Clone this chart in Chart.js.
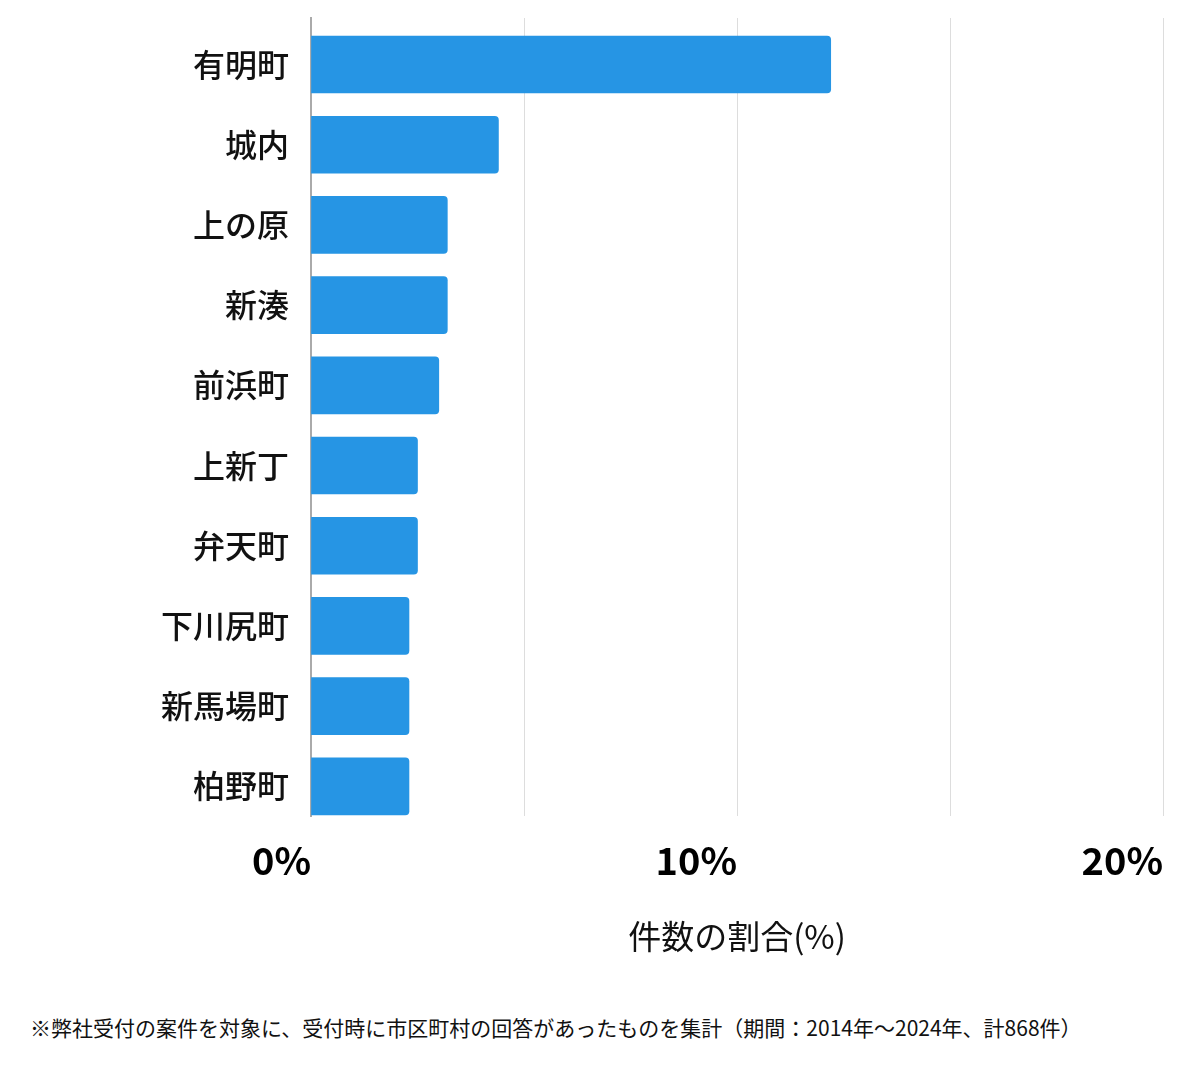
<!DOCTYPE html>
<html><head><meta charset="utf-8">
<script src="https://cdn.jsdelivr.net/npm/chart.js@4"></script>
<style>
html,body{margin:0;padding:0;background:#fff;}
#wrap{position:relative;width:1200px;height:990px;}
#note{position:absolute;left:30px;top:1012px;font-family:"Noto Sans CJK JP";font-size:21px;color:#111;white-space:nowrap;}
</style></head>
<body>
<div id="wrap"><canvas id="c" width="1200" height="990"></canvas></div>
<div id="note">※弊社受付の案件を対象に、受付時に市区町村の回答があったものを集計（期間：2014年～2024年、計868件）</div>
<script>
const categories = ["有明町","城内","上の原","新湊","前浜町","上新丁","弁天町","下川尻町","新馬場町","柏野町"];
const shares = [12.2, 4.4, 3.2, 3.2, 3.0, 2.5, 2.5, 2.3, 2.3, 2.3];
const tickLabels = {0:"0%", 10:"10%", 20:"20%"};
const axisTitle = "件数の割合(%)";
const FONT = '"Noto Sans CJK JP", "Noto Sans", sans-serif';

const points = categories.map((c, i) => ({ x: shares[i], y: i }));

new Chart(document.getElementById('c'), {
  type: 'bar',
  data: {
    datasets: [{
      data: points,
      backgroundColor: '#2695E4',
      borderRadius: 4,
      borderSkipped: 'start',
      barThickness: 57
    }]
  },
  options: {
    indexAxis: 'y',
    responsive: false,
    animation: false,
    layout: { padding: { left: 0, right: 37, top: 18, bottom: 0 } },
    plugins: { legend: { display: false }, tooltip: { enabled: false } },
    scales: {
      x: {
        type: 'linear',
        min: 0, max: 20,
        grid: { color: '#dddddd', lineWidth: 1, drawTicks: false },
        border: { display: false },
        ticks: {
          stepSize: 5,
          align: 'end',
          padding: 22,
          color: '#000',
          font: { family: FONT, size: 38, weight: 'bold' },
          callback: (v) => tickLabels[v] !== undefined ? tickLabels[v] : ''
        },
        title: {
          display: true, text: axisTitle, color: '#111',
          font: { family: FONT, size: 33 },
          padding: { top: 0, bottom: 34 }
        },
        afterFit: (s) => { s.height = 990 - 816; }
      },
      y: {
        type: 'linear',
        reverse: true,
        offset: false,
        min: -0.58, max: 9.37,
        grid: { display: false, drawTicks: false },
        border: { display: true, color: '#aaaaaa', width: 2 },
        ticks: {
          stepSize: 1,
          includeBounds: false,
          padding: 22,
          color: '#111',
          font: { family: FONT, size: 32, weight: '500' },
          callback: (v) => Number.isInteger(v) && categories[v] !== undefined ? categories[v] : ''
        },
        afterFit: (s) => { s.width = 311; s.paddingTop = 0; s.paddingBottom = 0; }
      }
    }
  }
});
</script>
</body></html>
